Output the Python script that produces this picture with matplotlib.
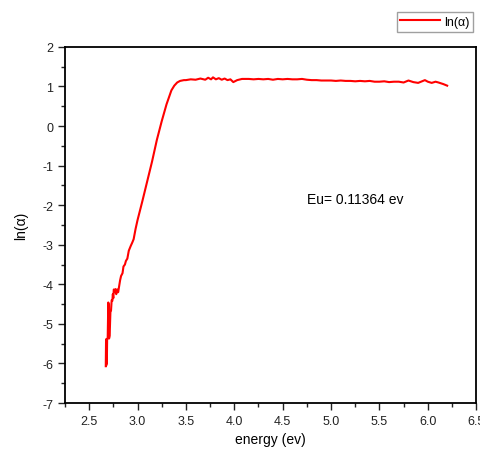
import matplotlib.pyplot as plt

plt.rcParams['font.family'] = ['Liberation Sans', 'DejaVu Sans']
plt.rcParams['axes.unicode_minus'] = False

# data
energy = [2.672, 2.675, 2.677, 2.680, 2.683, 2.686, 2.692, 2.698, 2.702, 2.706,
          2.712, 2.720, 2.726, 2.733, 2.740, 2.745, 2.750, 2.755, 2.765, 2.772,
          2.780, 2.790, 2.800, 2.810, 2.820, 2.830, 2.845, 2.855, 2.870, 2.880,
          2.895, 2.910, 2.930, 2.945, 2.960, 2.980, 3.00, 3.05, 3.10, 3.15,
          3.20, 3.25, 3.30, 3.35, 3.38, 3.41, 3.44, 3.48,
          3.50, 3.55, 3.60, 3.65, 3.70, 3.73, 3.76, 3.78, 3.81, 3.84,
          3.87, 3.90, 3.93, 3.96, 3.99, 4.03, 4.08, 4.15, 4.20, 4.25,
          4.30, 4.35, 4.40, 4.45, 4.50, 4.55, 4.60, 4.65, 4.70, 4.75,
          4.80, 4.85, 4.90, 4.95, 5.00, 5.05, 5.10, 5.15, 5.20, 5.25,
          5.30, 5.35, 5.40, 5.45, 5.50, 5.55, 5.60, 5.65, 5.70, 5.75,
          5.80, 5.85, 5.90, 5.94, 5.97, 6.00, 6.04, 6.08, 6.11, 6.16, 6.20]
ln_alpha = [-6.07, -5.40, -6.05, -5.38, -6.00, -5.40, -5.35, -4.46, -4.50, -5.37,
            -5.30, -4.70, -4.67, -4.40, -4.42, -4.25, -4.35, -4.13, -4.20, -4.12,
            -4.25, -4.13, -4.20, -4.05, -3.90, -3.79, -3.72, -3.55, -3.50, -3.41,
            -3.35, -3.15, -3.03, -2.95, -2.86, -2.60, -2.38, -1.90, -1.40, -0.90,
            -0.35, 0.12, 0.55, 0.90, 1.02, 1.10, 1.14, 1.16,
            1.16, 1.18, 1.17, 1.20, 1.17, 1.22, 1.18, 1.23, 1.18, 1.21,
            1.17, 1.20, 1.16, 1.18, 1.11, 1.16, 1.19, 1.19, 1.18, 1.19,
            1.18, 1.19, 1.17, 1.19, 1.18, 1.19, 1.18, 1.18, 1.19, 1.17,
            1.16, 1.16, 1.15, 1.15, 1.15, 1.14, 1.15, 1.14, 1.14, 1.13,
            1.14, 1.13, 1.14, 1.12, 1.12, 1.13, 1.11, 1.12, 1.12, 1.10,
            1.15, 1.11, 1.09, 1.13, 1.16, 1.12, 1.09, 1.12, 1.10, 1.06, 1.02]

fig = plt.figure(figsize=(4.81, 4.56), dpi=100)
ax = fig.add_axes([0.135, 0.114, 0.855, 0.781])

ax.plot(energy, ln_alpha, color='red', lw=1.5, label='ln(\u03b1)')
ax.set_xlim(2.25, 6.5)
ax.set_ylim(-7, 2)
ax.set_xticks([2.5, 3.0, 3.5, 4.0, 4.5, 5.0, 5.5, 6.0, 6.5])
ax.set_xticks([2.25, 2.75, 3.25, 3.75, 4.25, 4.75, 5.25, 5.75, 6.25], minor=True)
ax.set_yticks(range(-7, 3))
ax.set_yticks([-6.5, -5.5, -4.5, -3.5, -2.5, -1.5, -0.5, 0.5, 1.5], minor=True)
ax.tick_params(which='both', direction='out', top=False, right=False,
               labelsize=9, colors='#222222', width=1)
ax.tick_params(which='major', length=5)
ax.tick_params(which='minor', length=3)
for s in ax.spines.values():
    s.set_linewidth(1.3)

ax.set_xlabel('energy (ev)', fontsize=10)
ax.set_ylabel('ln(\u03b1)', fontsize=10, labelpad=10)
ax.text(4.75, -1.85, 'Eu= 0.11364 ev', fontsize=10, va='center')

fig.legend(loc='upper right', bbox_to_anchor=(0.997, 0.985), fontsize=9,
           fancybox=False, edgecolor='#888888', handlelength=3.2,
           borderpad=0.3, handletextpad=0.3)

fig.savefig('out.png', dpi=100)
